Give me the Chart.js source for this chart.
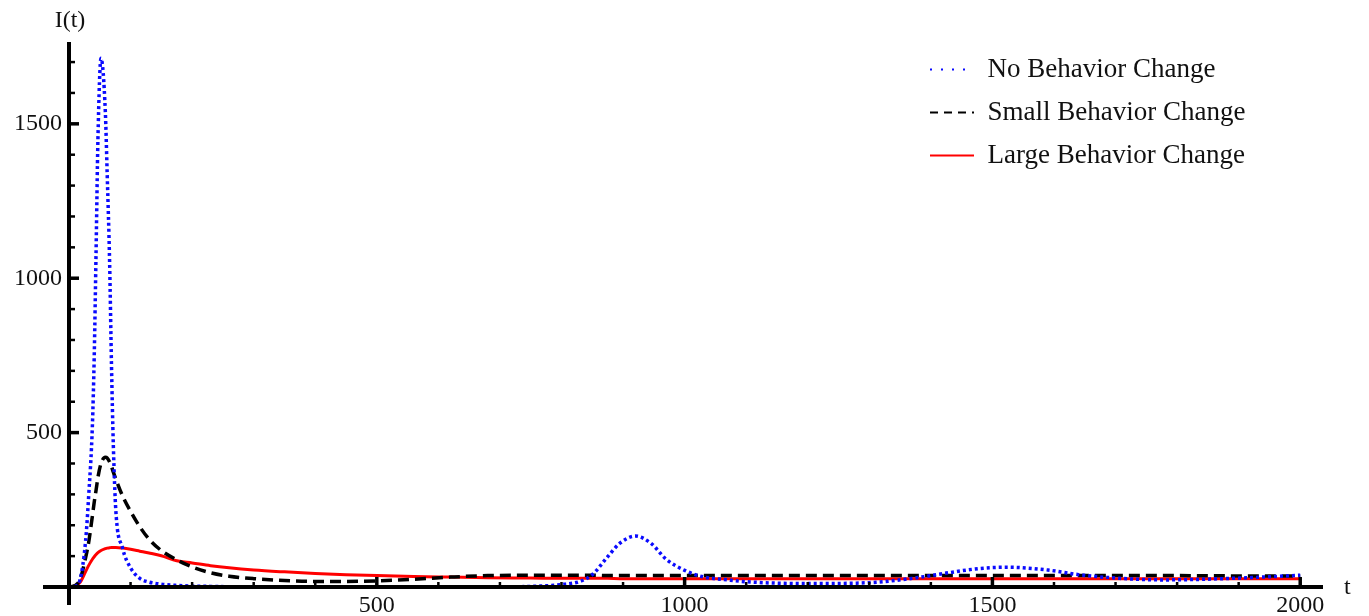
<!DOCTYPE html>
<html>
<head>
<meta charset="utf-8">
<script src="https://cdn.jsdelivr.net/npm/chart.js@4"></script>
<style>
	html, body { margin: 0; padding: 0; background: #fff; }
	#wrap { width: 1369px; height: 616px; position: relative; }
</style>
</head>
<body>
<div id="wrap"><canvas id="infectedChart"></canvas></div>
<script>
const seriesNames = ['No Behavior Change', 'Small Behavior Change', 'Large Behavior Change'];

// time grid (t) shared by the three curves
const times = [0, 10, 18, 27, 32, 38, 41, 44, 47, 52, 59, 62, 66, 69, 72, 76, 87, 100, 115, 130,
	150, 175, 200, 230, 260, 300, 350, 400, 450, 500, 560, 620, 680, 750, 800, 830, 850, 875, 895, 920,
	945, 970, 1000, 1030, 1070, 1100, 1200, 1300, 1370, 1425, 1480, 1525, 1590, 1640, 1700, 1780, 1890, 2000];

const noChange = [0, 3, 24, 150, 296, 523, 749, 1089, 1450, 1712, 1540, 1340, 1050, 720, 460, 250, 126, 62, 28, 16,
	9, 5, 3, 2, 1, 1, 0, 0, 0, 0, 0, 0, 0, 2, 8, 18, 40, 98, 142, 165,
	142, 90, 54, 33, 23, 17, 11, 14, 28, 45, 60, 64, 55, 40, 29, 23, 28, 38];

const smallChange = [0, 5, 25, 95, 145, 230, 275, 314, 355, 400, 420, 418, 405, 390, 372, 350, 295, 245, 195, 155,
	118, 88, 65, 46, 35, 27, 21, 18, 18, 20, 25, 32, 37, 38, 38, 38, 38, 37, 37, 37,
	37, 37, 37, 37, 37, 37, 37, 37, 37, 37, 37, 37, 37, 37, 37, 37, 36, 36];

const largeChange = [0, 4, 15, 50, 70, 90, 98, 105, 111, 118, 124, 126, 127, 128, 128, 128, 126, 122, 116, 110,
	101, 85, 78, 69, 62, 55, 49, 44, 40, 37, 34, 32, 30, 29, 28, 28, 28, 28, 27, 27,
	27, 27, 27, 27, 27, 27, 27, 27, 27, 27, 27, 27, 27, 27, 27, 27, 27, 27];

const xLabelled = [500, 1000, 1500, 2000];
const yLabelled = [500, 1000, 1500];

function toPoints(values) {
	return times.map((t, i) => ({ x: t, y: values[i] }));
}

// Mathematica-like axes: lines through the origin with inward ticks
const mathAxes = {
	id: 'mathAxes',
	afterLayout(chart) {
		const lg = chart.legend;
		const w = lg.width, h = lg.height;
		lg.left = 914;
		lg.right = lg.left + w;
		lg.top = 40;
		lg.bottom = lg.top + h;
	},
	afterDatasetsDraw(chart) {
		const { ctx, chartArea } = chart;
		const xs = chart.scales.x, ys = chart.scales.y;
		const x0 = xs.getPixelForValue(0);
		const y0 = ys.getPixelForValue(0);
		ctx.save();
		ctx.strokeStyle = '#000';
		ctx.lineWidth = 4;
		ctx.beginPath();
		ctx.moveTo(x0 - 26, y0);
		ctx.lineTo(chartArea.right, y0);
		ctx.moveTo(x0, chartArea.top);
		ctx.lineTo(x0, y0 + 18);
		ctx.stroke();

		xs.ticks.forEach(t => {
			if (t.value === 0) return;
			const px = xs.getPixelForValue(t.value);
			const major = t.value % 500 === 0;
			ctx.lineWidth = major ? 3.5 : 2.5;
			ctx.beginPath();
			ctx.moveTo(px, y0);
			ctx.lineTo(px, y0 - (major ? 10 : 5));
			ctx.stroke();
		});
		ys.ticks.forEach(t => {
			if (t.value === 0) return;
			const py = ys.getPixelForValue(t.value);
			const major = t.value % 500 === 0;
			ctx.lineWidth = major ? 3.5 : 2.5;
			ctx.beginPath();
			ctx.moveTo(x0, py);
			ctx.lineTo(x0 + (major ? 10 : 6), py);
			ctx.stroke();
		});

		ctx.fillStyle = '#111';
		ctx.font = '24px "Liberation Serif"';
		ctx.textBaseline = 'middle';
		ctx.textAlign = 'center';
		ctx.fillText('I(t)', x0 + 1, 21);
		ctx.textAlign = 'left';
		ctx.fillText('t', chartArea.right + 21, y0 + 1);
		ctx.restore();
	}
};

const ctx = document.getElementById('infectedChart').getContext('2d');

const chart = new Chart(ctx, {
	type: 'line',
	data: {
		datasets: [{
			label: seriesNames[0],
			data: toPoints(noChange),
			borderColor: '#0a0aff',
			borderWidth: 3.5,
			borderDash: [3, 3],
			pointRadius: 0,
			fill: false,
			cubicInterpolationMode: 'monotone'
		}, {
			label: seriesNames[1],
			data: toPoints(smallChange),
			borderColor: '#000000',
			borderWidth: 3.5,
			borderDash: [11, 6],
			pointRadius: 0,
			fill: false,
			cubicInterpolationMode: 'monotone'
		}, {
			label: seriesNames[2],
			data: toPoints(largeChange),
			borderColor: '#ff0000',
			borderWidth: 3,
			pointRadius: 0,
			fill: false,
			cubicInterpolationMode: 'monotone'
		}]
	},
	options: {
		responsive: true,
		maintainAspectRatio: false,
		animation: false,
		layout: {
			padding: { top: 42, right: 46, left: 0, bottom: 0 }
		},
		plugins: {
			tooltip: { enabled: false },
			legend: {
				position: 'chartArea',
				align: 'start',
				labels: {
					usePointStyle: true,
					pointStyle: 'line',
					pointStyleWidth: 44,
					padding: 16,
					color: '#111',
					font: { family: 'Liberation Serif', size: 27 },
					generateLabels(chart) {
						const items = Chart.defaults.plugins.legend.labels.generateLabels(chart);
						const dashes = [[2, 9], [8, 6], []];
						items.forEach((it, i) => {
							it.lineWidth = 2;
							it.lineDash = dashes[i];
						});
						return items;
					}
				}
			}
		},
		scales: {
			x: {
				type: 'linear',
				min: 0,
				max: 2037,
				afterFit(scale) { scale.height = 29; },
				grid: { display: false, drawTicks: false },
				border: { display: false },
				ticks: {
					stepSize: 100,
					includeBounds: false,
					autoSkip: false,
					maxRotation: 0,
					padding: 4,
					color: '#111',
					font: { family: 'Liberation Serif', size: 24 },
					callback: v => xLabelled.includes(v) ? String(v) : ''
				}
			},
			y: {
				type: 'linear',
				min: 0,
				max: 1765,
				afterFit(scale) { scale.width = 69; },
				grid: { display: false, drawTicks: false },
				border: { display: false },
				ticks: {
					stepSize: 100,
					includeBounds: false,
					autoSkip: false,
					padding: 7,
					color: '#111',
					font: { family: 'Liberation Serif', size: 24 },
					callback: v => yLabelled.includes(v) ? String(v) : ''
				}
			}
		}
	},
	plugins: [mathAxes]
});
</script>
</body>
</html>
